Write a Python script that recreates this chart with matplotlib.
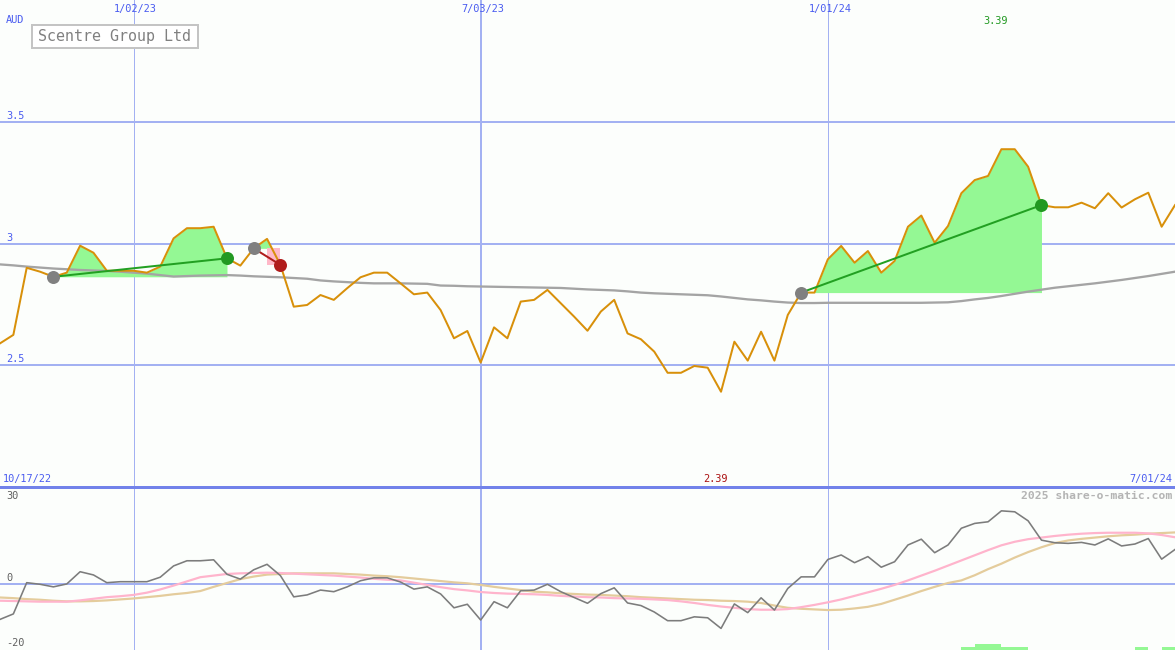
import numpy as np
import pandas as pd
import matplotlib
matplotlib.use("Agg")
import matplotlib.pyplot as plt
from matplotlib.patches import Rectangle

# ---------------- data ----------------
start_date = "2022-10-24"
n_weeks = 89
dates = pd.date_range(start_date, periods=n_weeks, freq="7D")

price = [2.591, 2.626, 2.902, 2.886, 2.865, 2.882, 2.993, 2.964, 2.890, 2.890,
         2.890, 2.882, 2.907, 3.023, 3.065, 3.065, 3.071, 2.941, 2.911, 2.982,
         3.021, 2.914, 2.742, 2.749, 2.790, 2.770, 2.818, 2.863, 2.882, 2.882,
         2.838, 2.793, 2.800, 2.728, 2.612, 2.642, 2.512, 2.657, 2.612, 2.763,
         2.770, 2.811, 2.756, 2.701, 2.643, 2.722, 2.770, 2.632, 2.608, 2.557,
         2.470, 2.470, 2.498, 2.491, 2.392, 2.598, 2.520, 2.639, 2.520, 2.708,
         2.800, 2.800, 2.937, 2.992, 2.923, 2.971, 2.882, 2.930, 3.071, 3.117,
         3.005, 3.074, 3.209, 3.263, 3.280, 3.390, 3.390, 3.318, 3.160, 3.151,
         3.151, 3.170, 3.147, 3.209, 3.150, 3.184, 3.211, 3.071, 3.160]

moving_avg = [2.916, 2.912, 2.907, 2.903, 2.899, 2.896, 2.893, 2.891, 2.889, 2.886,
              2.882, 2.878, 2.872, 2.866, 2.868, 2.870, 2.871, 2.872, 2.870, 2.867,
              2.865, 2.863, 2.860, 2.857, 2.850, 2.846, 2.843, 2.840, 2.838, 2.838,
              2.838, 2.837, 2.836, 2.829, 2.828, 2.826, 2.825, 2.824, 2.823, 2.822,
              2.821, 2.820, 2.819, 2.816, 2.813, 2.811, 2.809, 2.805, 2.800, 2.797,
              2.795, 2.793, 2.791, 2.789, 2.784, 2.778, 2.772, 2.768, 2.763, 2.759,
              2.757, 2.757, 2.758, 2.758, 2.758, 2.758, 2.758, 2.758, 2.758, 2.758,
              2.759, 2.760, 2.765, 2.772, 2.778, 2.786, 2.795, 2.804, 2.812, 2.820,
              2.826, 2.832, 2.838, 2.845, 2.852, 2.860, 2.868, 2.877, 2.886]

momentum = [-11.1, -9.4, 0.3, -0.2, -1.0, -0.1, 3.7, 2.7, 0.3, 0.6,
            0.6, 0.6, 2.0, 5.5, 7.1, 7.1, 7.4, 2.9, 1.4, 4.3,
            6.0, 2.5, -4.1, -3.5, -2.0, -2.5, -1.0, 0.9, 1.8, 1.8,
            0.5, -1.7, -1.0, -3.2, -7.5, -6.4, -11.3, -5.6, -7.5, -2.2,
            -2.0, -0.2, -2.5, -4.3, -6.1, -3.1, -1.3, -6.0, -6.8, -8.8,
            -11.5, -11.5, -10.3, -10.6, -13.9, -6.3, -9.0, -4.4, -8.2, -1.5,
            2.1, 2.1, 7.5, 8.9, 6.5, 8.4, 5.1, 6.8, 12.0, 13.8,
            9.6, 12.0, 17.2, 18.7, 19.2, 22.6, 22.3, 19.5, 13.5, 12.7,
            12.5, 12.8, 12.0, 13.9, 11.7, 12.3, 14.0, 7.6, 10.6]

signal_fast = [-5.3, -5.4, -5.5, -5.6, -5.6, -5.6, -5.2, -4.7, -4.2, -3.9,
               -3.5, -2.8, -1.8, -0.6, 0.7, 2.0, 2.5, 3.0, 3.2, 3.3,
               3.4, 3.3, 3.1, 2.9, 2.7, 2.5, 2.2, 1.9, 1.5, 1.2,
               1.0, 0.3, -0.4, -1.1, -1.7, -2.1, -2.6, -2.9, -3.1, -3.2,
               -3.3, -3.5, -3.8, -4.0, -4.2, -4.3, -4.5, -4.6, -4.7, -4.9,
               -5.1, -5.5, -6.0, -6.6, -7.1, -7.5, -7.9, -8.1, -8.1, -7.9,
               -7.3, -6.6, -5.8, -4.9, -3.8, -2.7, -1.6, -0.4, 1.0, 2.5,
               4.0, 5.6, 7.2, 8.8, 10.4, 11.9, 13.0, 13.8, 14.3, 14.8,
               15.2, 15.5, 15.7, 15.8, 15.8, 15.8, 15.6, 15.1, 14.4]

signal_slow = [-4.3, -4.5, -4.8, -5.0, -5.3, -5.5, -5.5, -5.4, -5.2, -4.9,
               -4.6, -4.2, -3.8, -3.3, -2.9, -2.3, -1.0, 0.2, 1.4, 2.2,
               2.8, 3.0, 3.2, 3.2, 3.2, 3.2, 3.0, 2.8, 2.5, 2.3,
               2.0, 1.6, 1.2, 0.8, 0.4, 0.1, -0.4, -1.0, -1.5, -2.0,
               -2.5, -2.7, -3.0, -3.2, -3.4, -3.5, -3.7, -3.9, -4.2, -4.4,
               -4.6, -4.8, -5.0, -5.1, -5.3, -5.4, -5.6, -6.0, -6.8, -7.5,
               -7.8, -8.0, -8.2, -8.1, -7.7, -7.2, -6.3, -5.0, -3.7, -2.3,
               -1.0, 0.2, 1.0, 2.6, 4.5, 6.2, 8.1, 9.8, 11.3, 12.6,
               13.4, 13.9, 14.3, 14.7, 15.0, 15.2, 15.5, 15.7, 15.9]

# trades: (entry index, exit index)
trade_entries = [4, 19, 60]
trade_exits = [17, 21, 78]

# small histogram bars at the bottom of the lower panel
bar_index = [72, 73, 74, 75, 76, 85, 87]
bar_level = [1, 2, 2, 1, 1, 1, 1]

price_ticks = [2.5, 3.0, 3.5]
price_tick_labels = ["2.5", "3", "3.5"]
date_grid = ["2023-01-02", "2023-07-03", "2024-01-01"]
date_grid_labels = ["1/02/23", "7/03/23", "1/01/24"]
date_grid_widths = [1.0, 2.0, 1.0]
osc_tick_labels = ["30", "0", "-20"]

title = "Scentre Group Ltd"
currency = "AUD"
start_label = "10/17/22"
end_label = "7/01/24"
high_label = "3.39"
low_label = "2.39"
credit = "2025 share-o-matic.com"

# ---------------- styles ----------------
W, H = 1175, 650
BG = "#fcfefc"
GRID = "#a3b1f2"
SEP = "#7282ea"
LBL = "#4a5cf0"
ORANGE = "#d8900a"
FILLG = "#94f894"
GREEN = "#22a022"
RED = "#b01c1c"
PINK_FILL = "#ffb8c8"
MA_GREY = "#a4a4a4"
MARK_GREY = "#808080"
MONO = "DejaVu Sans Mono"

px = 72.0 / 100.0  # points per pixel

fig = plt.figure(figsize=(W / 100, H / 100), dpi=100, facecolor=BG)
ax = fig.add_axes([0, 163 / H, 1, 487 / H])
ax2 = fig.add_axes([0, 0, 1, 163 / H])
for a in (ax, ax2):
    a.set_facecolor(BG)
    for s in a.spines.values():
        s.set_visible(False)
    a.set_xticks([])
    a.set_yticks([])
    a.set_xlim(dates[0], dates[-1])

ax.set_ylim(2.0, 4.004)
ax2.set_ylim(-20.6, 30)

price_a = np.array(price)
x = np.array(dates)

# grid
for lv in price_ticks:
    ax.axhline(lv, color=GRID, lw=2 * px, zorder=1)
ax2.axhline(0, color=GRID, lw=2 * px, zorder=1)
for d, w in zip(date_grid, date_grid_widths):
    ax.axvline(pd.Timestamp(d), color=GRID, lw=w * px, zorder=1)
    ax2.axvline(pd.Timestamp(d), color=GRID, lw=w * px, zorder=1)

# trade fills
for e, xo in zip(trade_entries, trade_exits):
    lvl = price_a[e]
    seg = slice(e, xo + 1)
    ax.fill_between(x[seg], price_a[seg], lvl, where=price_a[seg] >= lvl,
                    interpolate=True, color=FILLG, lw=0, zorder=2)
    if price_a[xo] < lvl:
        ax.fill_between(x[xo - 1:xo + 1], price_a[xo], lvl, color=PINK_FILL,
                        lw=0, zorder=2.5)

# moving average
ax.plot(x, moving_avg, color=MA_GREY, lw=2.3 * px, zorder=3)
# price
ax.plot(x, price, color=ORANGE, lw=2 * px, zorder=4)

# trade lines and markers
for e, xo in zip(trade_entries, trade_exits):
    win = price_a[xo] >= price_a[e]
    c = GREEN if win else RED
    ax.plot([x[e], x[xo]], [price_a[e], price_a[xo]], color=c, lw=2 * px, zorder=5)
    ax.plot(x[e], price_a[e], "o", ms=13 * px, color=MARK_GREY, mec="none", zorder=6)
    ax.plot(x[xo], price_a[xo], "o", ms=13 * px, color=("#229922" if win else "#b01c1c"),
            mec="none", zorder=6)

# lower panel
bar_x = [dates[i] for i in bar_index]
ax2.bar(bar_x, [b * 0.95 for b in bar_level], width=7, align="edge",
        bottom=-20.6, color=FILLG, lw=0, zorder=2)
ax2.plot(x, signal_slow, color="#e4cc9c", lw=2.2 * px, zorder=3)
ax2.plot(x, signal_fast, color="#ffb4cc", lw=2.2 * px, zorder=3)
ax2.plot(x, momentum, color="#7c7c7c", lw=1.6 * px, zorder=4)

# separator
fig.add_artist(plt.Line2D([0, 1], [1 - 487 / H, 1 - 487 / H], color=SEP,
                          lw=3 * px, transform=fig.transFigure))


def ftext(xp, yp, s, **kw):
    fig.text(xp / W, 1 - yp / H, s, family=MONO, **kw)


# labels
ftext(6, 20, currency, color=LBL, fontsize=7.4, va="center", ha="left")
for lv, lab in zip(price_ticks, price_tick_labels):
    yp = (4.004 - lv) / (4.004 - 2.0) * 487
    ftext(6, yp - 6, lab, color=LBL, fontsize=7.4, va="center", ha="left")
for d, lab in zip(date_grid, date_grid_labels):
    frac = (pd.Timestamp(d) - dates[0]) / (dates[-1] - dates[0])
    ftext(frac * W + 2, 9, lab, color=LBL, fontsize=7.4, va="center", ha="center")
ftext(996, 21, high_label, color="#229922", fontsize=7.4, va="center", ha="center")
ftext(3, 479, start_label, color=LBL, fontsize=7.4, va="center", ha="left")
ftext(715, 479, low_label, color="#aa1111", fontsize=7.4, va="center", ha="center")
ftext(1172, 479, end_label, color=LBL, fontsize=7.4, va="center", ha="right")
ftext(1172, 496, credit, color="#b4b4b4", fontsize=8.2, va="center", ha="right",
      fontweight="bold")
for yp, lab in zip([496, 578, 643], osc_tick_labels):
    ftext(6, yp, lab, color="#606060", fontsize=7.4, va="center", ha="left")

# title box
fig.add_artist(Rectangle((32 / W, 1 - 47.5 / H), 166 / W, 22 / H,
                         transform=fig.transFigure, fc="white", ec="#c4c4c4",
                         lw=2 * px, zorder=10))
ftext(38, 36.5, title, fontsize=10.8, color="#808080", va="center", ha="left",
      zorder=11)

fig.savefig("out.png", dpi=100, facecolor=BG)
